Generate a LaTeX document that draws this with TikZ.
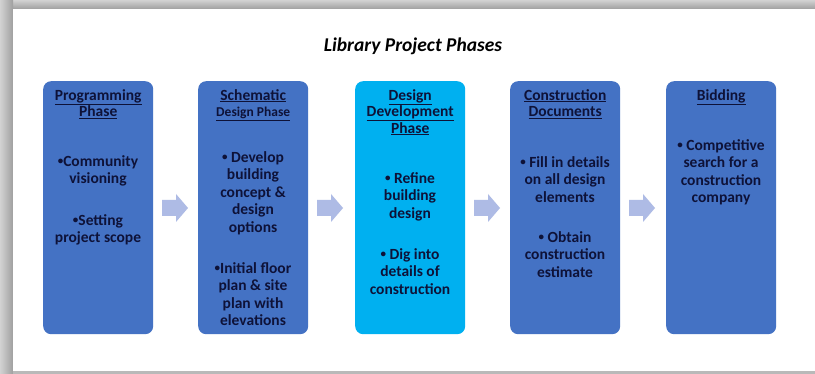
\documentclass[tikz,border=0pt]{standalone}
\usepackage{fontspec}
\setmainfont{Carlito}
\definecolor{phaseblue}{HTML}{4472C4}
\definecolor{phasecyan}{HTML}{00B0F0}
\definecolor{txt}{HTML}{0E1238}
\definecolor{arrowc}{HTML}{AEBBE5}
\newcommand{\bul}{{\fontsize{11}{11}\selectfont\raisebox{1.2pt}{\textbullet}}}
\begin{document}
\begin{tikzpicture}[x=1pt,y=-1pt,
  phase/.style={rounded corners=8pt, minimum width=110pt, minimum height=253pt, inner sep=0pt, anchor=north west},
  head/.style={font=\bfseries\fontsize{15.5}{16.5}\selectfont, text=txt, align=center, anchor=north, inner sep=0pt},
  body/.style={font=\bfseries\fontsize{15.5}{17.5}\selectfont, text=txt, align=center, anchor=north, inner sep=0pt},
  flow/.style={fill=arrowc}
]
\useasboundingbox (0,0) rectangle (815,374);
\fill[white] (0,0) rectangle (815,374);
% frame shadow
\shade[top color=gray!35, bottom color=gray!75] (0,0) rectangle (815,9);
\shade[left color=gray!35, right color=gray!75] (0,0) rectangle (13,374);
\fill[white] (13,9) rectangle (815,371);
\fill[gray!55] (13,371.5) rectangle (815,374);

% title
\node[font=\bfseries\itshape\fontsize{19.5}{21}\selectfont, text=black] (title) at (413,46) {Library Project Phases};

% boxes
\node[phase, fill=phaseblue] (b1) at (43,81) {};
\node[phase, fill=phaseblue] (b2) at (198,81) {};
\node[phase, fill=phasecyan] (b3) at (355,81) {};
\node[phase, fill=phaseblue] (b4) at (510,81) {};
\node[phase, fill=phaseblue] (b5) at (666,81) {};

% headings
\node[head] (h1) at ([yshift=-8pt]b1.north) {\underline{Programming}\\\underline{Phase}};
\node[head] (h2) at ([yshift=-8pt]b2.north) {\underline{Schematic}\\{\fontsize{13.5}{14}\selectfont\underline{Design Phase}}};
\node[head] (h3) at ([yshift=-8pt]b3.north) {\underline{Design}\\\underline{Development}\\\underline{Phase}};
\node[head] (h4) at ([yshift=-8pt]b4.north) {\underline{Construction}\\\underline{Documents}};
\node[head] (h5) at ([yshift=-8pt]b5.north) {\underline{Bidding}};

% bodies
\node[body] (t1a) at (98,155) {\bul Community\\visioning};
\node[body] (t1b) at (98,214) {\bul Setting\\project scope};
\node[body] (t2a) at (253,151) {\bul\ Develop\\building\\concept \&\\design\\options};
\node[body] (t2b) at (253,262) {\bul Initial floor\\plan \& site\\plan with\\elevations};
\node[body] (t3a) at (410,172) {\bul\ Refine\\building\\design};
\node[body] (t3b) at (410,248) {\bul\ Dig into\\details of\\construction};
\node[body] (t4a) at (565,156) {\bul\ Fill in details\\on all design\\elements};
\node[body] (t4b) at (565,231) {\bul\ Obtain\\construction\\estimate};
\node[body] (t5a) at (721,139) {\bul\ Competitive\\search for a\\construction\\company};

% block arrows between phases
\foreach \x in {162,317,474,629}{
  \fill[flow] (\x,200) -- (\x+14,200) -- (\x+14,194) -- (\x+26,208) -- (\x+14,222) -- (\x+14,216) -- (\x,216) -- cycle;
}
\end{tikzpicture}
\end{document}
